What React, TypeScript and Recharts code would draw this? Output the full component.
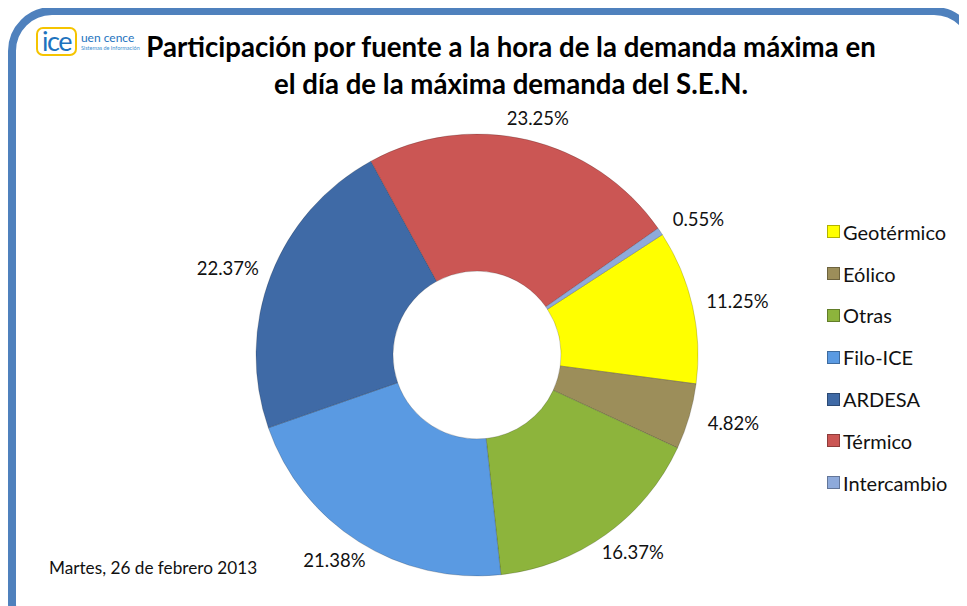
import { PieChart, Pie, Cell } from "recharts";

const sources = ["Geotérmico", "Eólico", "Otras", "Filo-ICE", "ARDESA", "Térmico", "Intercambio"];
const shares = [11.25, 4.82, 16.37, 21.38, 22.37, 23.25, 0.55];
const colors = ["#FFFF00", "#9C8E5A", "#8DB43C", "#5A9AE2", "#3F6AA6", "#CB5654", "#8EAADB"];

const data = sources.map((name, i) => ({ name, value: shares[i] }));

const FONT = "Lato, 'Open Sans', sans-serif";
const RAD = Math.PI / 180;

interface LabelProps {
  cx?: number;
  cy?: number;
  midAngle?: number;
  outerRadius?: number;
  value?: number;
}

// labels sit on an ellipse slightly wider than the ring, like Excel's outside labels
function OuterLabel({ cx = 0, cy = 0, midAngle = 0, outerRadius = 0, value = 0 }: LabelProps) {
  const rx = outerRadius + 46;
  const ry = outerRadius + 22;
  const x = cx + rx * Math.cos(-midAngle * RAD);
  const y = cy + ry * Math.sin(-midAngle * RAD);
  return (
    <text x={x} y={y} textAnchor="middle" dominantBaseline="central" fontSize={18.5} fontFamily={FONT} fill="#111">
      {value.toFixed(2)}%
    </text>
  );
}

function Logo() {
  return (
    <div style={{ position: "absolute", left: 36, top: 27, display: "flex", alignItems: "center" }}>
      <div
        style={{
          border: "2.5px solid #F5C400",
          borderRadius: 7,
          padding: "0 4px",
          height: 25,
          lineHeight: "23px",
          fontFamily: FONT,
          fontSize: 27,
          color: "#1E73BE",
          letterSpacing: -1.5,
        }}
      >
        ice
      </div>
      <div style={{ marginLeft: 4, fontFamily: FONT, color: "#1E73BE" }}>
        <div style={{ fontSize: 12, lineHeight: "13px" }}>uen cence</div>
        <div style={{ fontSize: 5.5, lineHeight: "8px", color: "#3C8FD0" }}>Sistemas de Información</div>
      </div>
    </div>
  );
}

export default function App() {
  return (
    <div style={{ position: "relative", width: 967, height: 606, margin: "-8px 0 0 -8px", overflow: "hidden", background: "#fff" }}>
      <div
        style={{
          position: "absolute",
          left: 8,
          top: 7,
          width: 970,
          height: 640,
          border: "8px solid #4F81BD",
          borderRadius: 44,
          boxSizing: "border-box",
        }}
      />
      <Logo />
      <div
        style={{
          position: "absolute",
          left: 111,
          width: 800,
          top: 28,
          textAlign: "center",
          fontFamily: FONT,
          fontWeight: 700,
          fontSize: 27.6,
          lineHeight: "37px",
          color: "#000",
        }}
      >
        Participación por fuente a la hora de la demanda máxima en
        <br />
        el día de la máxima demanda del S.E.N.
      </div>
      <div style={{ position: "absolute", left: 0, top: 0 }}>
        <PieChart width={967} height={606} margin={{ top: 0, right: 0, bottom: 0, left: 0 }}>
          <Pie
            data={data}
            dataKey="value"
            nameKey="name"
            cx={477}
            cy={355}
            innerRadius={84}
            outerRadius={221}
            startAngle={33}
            endAngle={-327}
            stroke="rgba(0,0,0,0.18)"
            strokeWidth={1}
            label={OuterLabel}
            labelLine={false}
            isAnimationActive={false}
          >
            {data.map((d, i) => (
              <Cell key={d.name} fill={colors[i]} />
            ))}
          </Pie>
        </PieChart>
      </div>
      <div style={{ position: "absolute", left: 827, top: 211, fontFamily: FONT, fontSize: 20, color: "#111" }}>
        {sources.map((s, i) => (
          <div key={s} style={{ display: "flex", alignItems: "center", height: 41.8 }}>
            <span
              style={{
                display: "inline-block",
                width: 13,
                height: 13,
                background: colors[i],
                border: "1px solid rgba(0,0,0,0.3)",
                boxSizing: "border-box",
                marginRight: 3,
              }}
            />
            {s}
          </div>
        ))}
      </div>
      <div style={{ position: "absolute", left: 49, top: 557, fontFamily: FONT, fontSize: 17.2, color: "#111" }}>
        Martes, 26 de febrero 2013
      </div>
    </div>
  );
}
